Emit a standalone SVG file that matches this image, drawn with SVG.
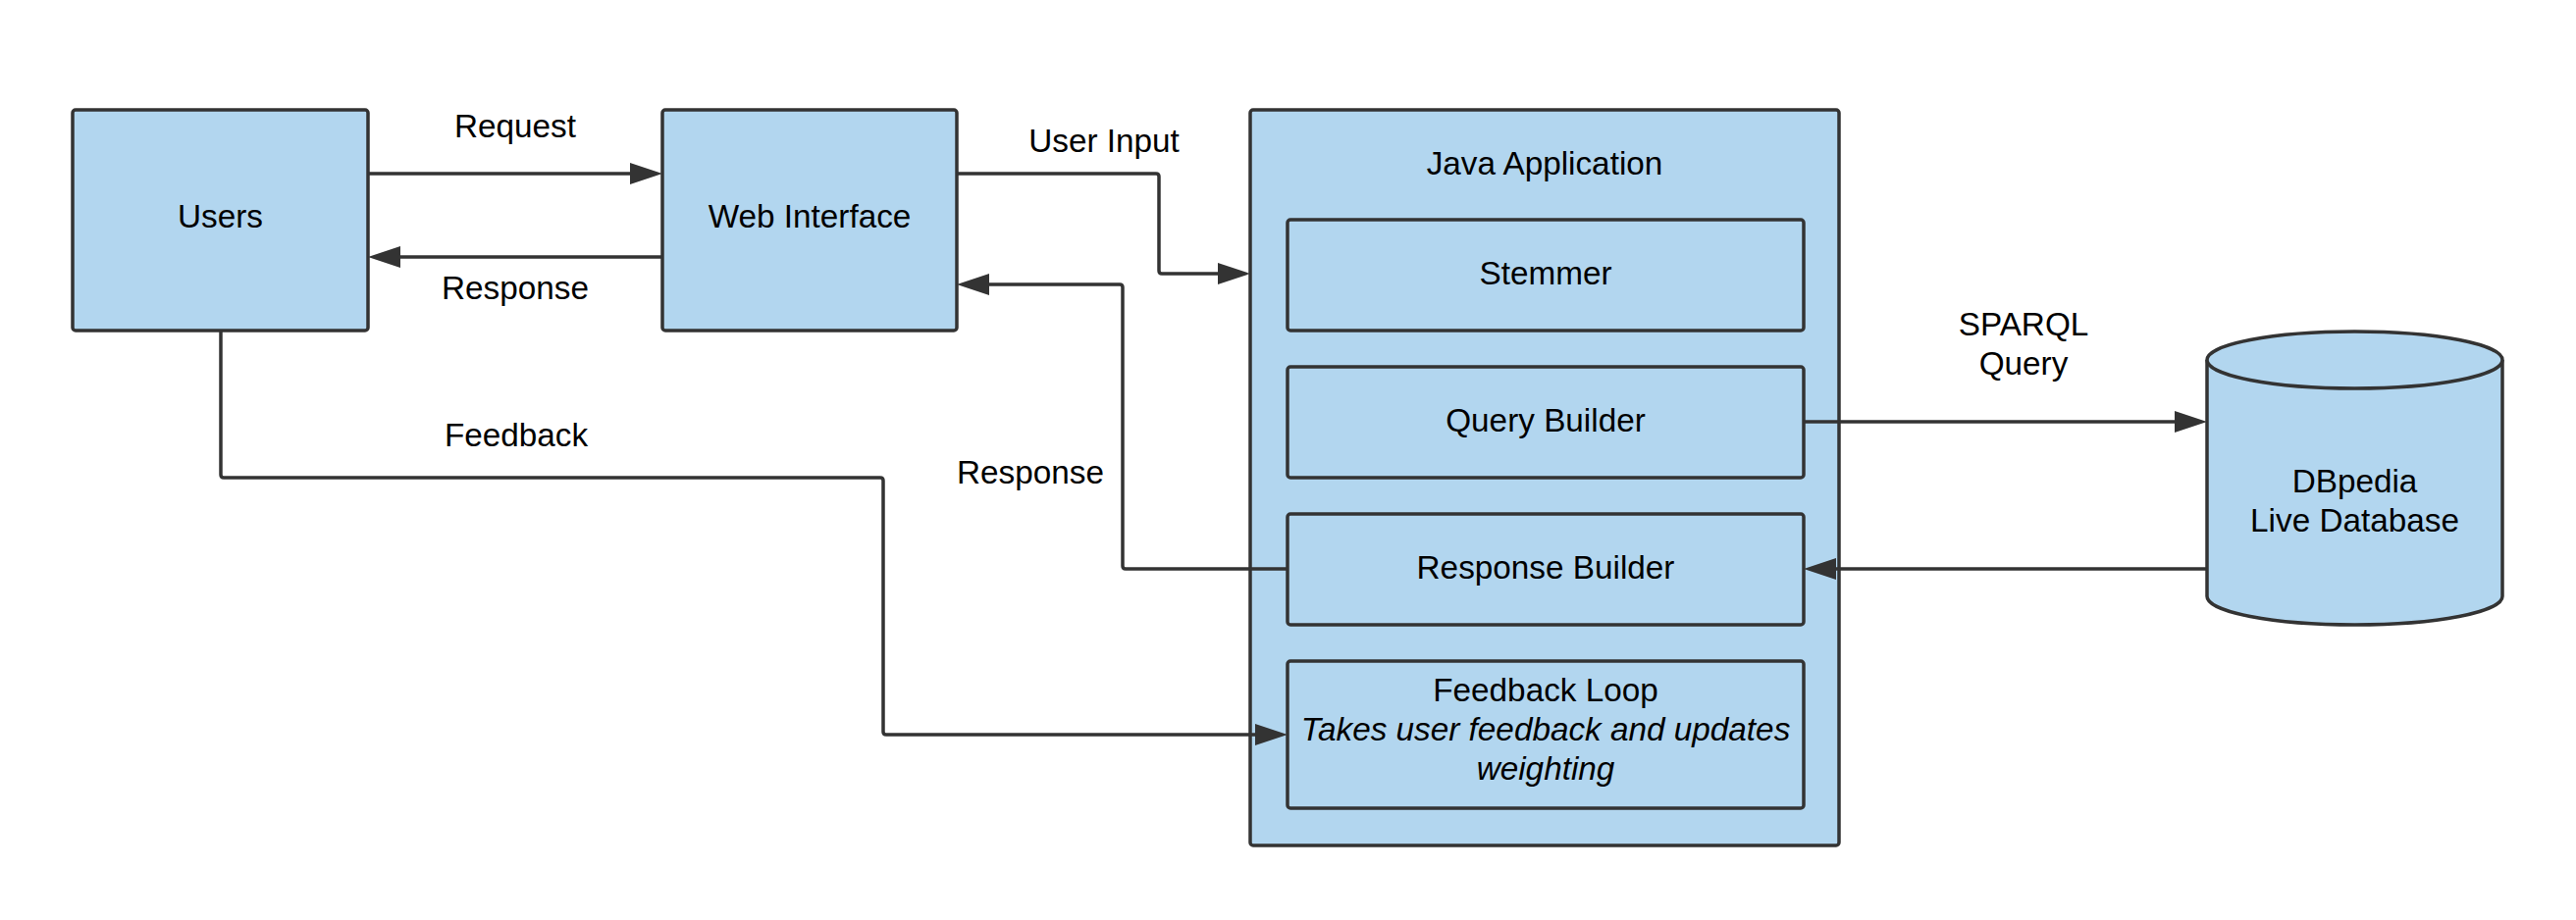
<svg xmlns="http://www.w3.org/2000/svg" width="2625" height="938" viewBox="0 0 2625 938">
<defs>
<style>
.box{fill:#b2d6ef;stroke:#333333;stroke-width:3.5}
.con{fill:none;stroke:#333333;stroke-width:3.5;stroke-linejoin:round}
text{font-family:"Liberation Sans",Arial,sans-serif;font-size:33.3px;fill:#000000;text-anchor:middle}
.it{font-style:italic}
</style>
<marker id="arr" markerUnits="userSpaceOnUse" viewBox="0 0 33 22" refX="23" refY="11" markerWidth="33" markerHeight="22" orient="auto">
<path d="M0,0 L33,11 L0,22 Z" fill="#333333"/>
</marker>
</defs>
<rect width="2625" height="938" fill="#ffffff"/>
<g id="users">
<rect class="box" x="74" y="112" width="301" height="225" rx="3"/>
<text x="224.5" y="232">Users</text>
</g>
<g id="web-interface">
<rect class="box" x="675" y="112" width="300" height="225" rx="3"/>
<text x="825" y="232">Web Interface</text>
</g>
<g id="java-application">
<rect class="box" x="1274" y="112" width="600" height="750" rx="3"/>
<text x="1574" y="178">Java Application</text>
</g>
<g id="stemmer">
<rect class="box" x="1312" y="224" width="526" height="113" rx="3"/>
<text x="1575" y="290">Stemmer</text>
</g>
<g id="query-builder">
<rect class="box" x="1312" y="374" width="526" height="113" rx="3"/>
<text x="1575" y="440">Query Builder</text>
</g>
<g id="response-builder">
<rect class="box" x="1312" y="524" width="526" height="113" rx="3"/>
<text x="1575" y="590">Response Builder</text>
</g>
<g id="feedback-loop">
<rect class="box" x="1312" y="674" width="526" height="150" rx="3"/>
<text x="1575" y="715">Feedback Loop</text>
<text class="it" x="1575" y="755">Takes user feedback and updates</text>
<text class="it" x="1575" y="795">weighting</text>
</g>
<g id="dbpedia">
<path class="box" d="M2249,367 L2249,608 A150.5,29 0 0 0 2550,608 L2550,367"/>
<ellipse class="box" cx="2399.5" cy="367" rx="150.5" ry="29"/>
<text x="2399.5" y="502">DBpedia</text>
<text x="2399.5" y="542">Live Database</text>
</g>
<g id="connectors">
<path class="con" d="M375,177 L665,177" marker-end="url(#arr)"/>
<path class="con" d="M675,262 L385,262" marker-end="url(#arr)"/>
<path class="con" d="M975,177 L1178,177 Q1181,177 1181,180 L1181,276 Q1181,279 1184,279 L1264,279" marker-end="url(#arr)"/>
<path class="con" d="M1312,580 L1147,580 Q1144,580 1144,577 L1144,293 Q1144,290 1141,290 L985,290" marker-end="url(#arr)"/>
<path class="con" d="M225,337 L225,484 Q225,487 228,487 L897,487 Q900,487 900,490 L900,746 Q900,749 903,749 L1302,749" marker-end="url(#arr)"/>
<path class="con" d="M1838,430 L2239,430" marker-end="url(#arr)"/>
<path class="con" d="M2249,580 L1848,580" marker-end="url(#arr)"/>
</g>
<g id="labels">
<text x="525" y="140">Request</text>
<text x="525" y="305">Response</text>
<text x="1125" y="155">User Input</text>
<text x="526" y="455">Feedback</text>
<text x="1050" y="493">Response</text>
<text x="2062" y="342">SPARQL</text>
<text x="2062" y="382">Query</text>
</g>
</svg>
